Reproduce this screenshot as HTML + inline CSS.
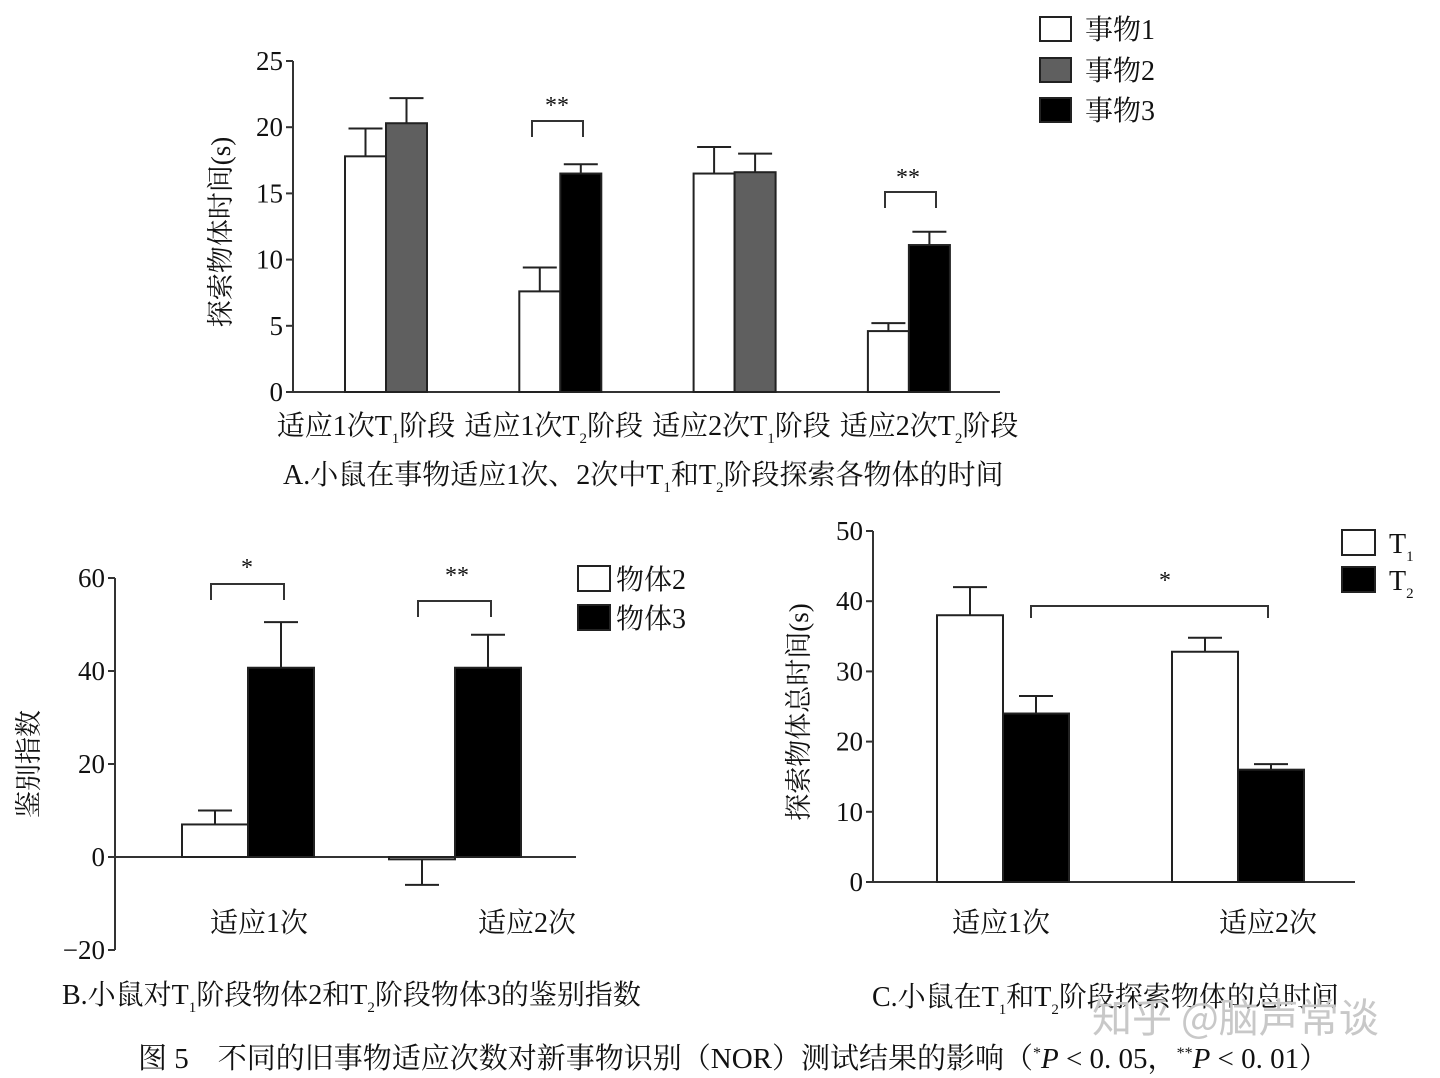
<!DOCTYPE html>
<html><head><meta charset="utf-8">
<style>
html,body{margin:0;padding:0;background:#fff;}
svg{display:block;}
text{font-family:"Liberation Serif","Noto Serif CJK SC","Noto Sans CJK SC",serif;fill:#111;}
</style></head>
<body>
<svg id="fig" width="1440" height="1078" viewBox="0 0 1440 1078" xmlns="http://www.w3.org/2000/svg">
<g id="gA"></g>
<g id="gB"></g>
<g id="gC"></g>
<text x="283" y="484" font-size="28">A.小鼠在事物适应1次、2次中T<tspan font-size="15" dy="8">1</tspan><tspan dy="-8">和T</tspan><tspan font-size="15" dy="8">2</tspan><tspan dy="-8">阶段探索各物体的时间</tspan></text>
<text x="62" y="1004" font-size="28">B.小鼠对T<tspan font-size="15" dy="8">1</tspan><tspan dy="-8">阶段物体2和T</tspan><tspan font-size="15" dy="8">2</tspan><tspan dy="-8">阶段物体3的鉴别指数</tspan></text>
<text x="872" y="1006" font-size="28">C.小鼠在T<tspan font-size="15" dy="8">1</tspan><tspan dy="-8">和T</tspan><tspan font-size="15" dy="8">2</tspan><tspan dy="-8">阶段探索物体的总时间</tspan></text>
<text x="1092" y="1032" font-size="40" style="fill:#c8c8c8;font-family:'Noto Sans CJK SC',sans-serif">知乎 @脑声常谈</text>
<text x="138" y="1068" font-size="29">图 5　不同的旧事物适应次数对新事物识别（NOR）测试结果的影响（<tspan font-size="16" dy="-10">*</tspan><tspan dy="10" font-style="italic">P</tspan><tspan> &lt; 0. 05，</tspan><tspan font-size="16" dy="-10">**</tspan><tspan dy="10" font-style="italic">P</tspan><tspan> &lt; 0. 01）</tspan></text>
</svg>
<script>
// Chart A data
const aCategories=["适应1次T1阶段","适应1次T2阶段","适应2次T1阶段","适应2次T2阶段"];
const aSeriesLeft=[17.8,7.6,16.5,4.6];
const aSeriesRight=[20.3,16.5,16.6,11.1];
const aErrLeft=[2.1,1.8,2.0,0.6];
const aErrRight=[1.9,0.7,1.4,1.0];
const aRightKind=["gray","black","gray","black"];
const aTicks=[0,5,10,15,20,25];
// Chart B data
const bCategories=["适应1次","适应2次"];
const bSeries2=[7,-0.5];
const bSeries3=[40.7,40.7];
const bErr2=[3,-5.5];
const bErr3=[9.8,7.1];
const bTicks=[-20,0,20,40,60];
// Chart C data
const cCategories=["适应1次","适应2次"];
const cT1=[38,32.8];
const cT2=[24,16];
const cErrT1=[4,2];
const cErrT2=[2.5,0.8];
const cTicks=[0,10,20,30,40,50];

const NS="http://www.w3.org/2000/svg";
function mk(parent,tag,attrs){const e=document.createElementNS(NS,tag);for(const k in attrs)e.setAttribute(k,attrs[k]);parent.appendChild(e);return e;}
const colors={white:"#fff",gray:"#5f5f5f",black:"#000"};

function axisY(g,x,yScale,ticks,fmt){
  const ax=mk(g,'line',{x1:x,x2:x,y1:yScale(ticks[ticks.length-1]),y2:yScale(ticks[0]),stroke:'#333','stroke-width':2});
  
  ticks.forEach(t=>{
    const tl=mk(g,'line',{x1:x-7,x2:x,y1:yScale(t),y2:yScale(t),stroke:'#333','stroke-width':2});
    
    const tx=mk(g,'text',{x:x-10,y:yScale(t)+9,'font-size':27,'text-anchor':'end'});
    tx.textContent=fmt(t);
    
  });
}
function bar(g,x,w,yScale,v,err,fill,name){
  const y0=yScale(0),y1=yScale(v);
  const ex=x+w/2, ey=yScale(v+err);
  const el=mk(g,'line',{x1:ex,x2:ex,y1:y1,y2:ey,stroke:'#222','stroke-width':2});
  
  const ec=mk(g,'line',{x1:ex-17,x2:ex+17,y1:ey,y2:ey,stroke:'#222','stroke-width':2});
  
  const r=mk(g,'rect',{x:x,y:Math.min(y0,y1),width:w,height:Math.max(1.5,Math.abs(y1-y0)),fill:fill,stroke:'#222','stroke-width':2});
  
}
function bracket(g,x1,x2,y,drop,label,lx,ly){
  const p=mk(g,'path',{d:`M${x1},${y+drop}V${y}H${x2}V${y+drop}`,fill:'none',stroke:'#333','stroke-width':2});
  
  const t=mk(g,'text',{x:lx,y:ly,'font-size':24,'text-anchor':'middle'});t.textContent=label;
  
}
function legend(g,x,ys,fills,labels,w,h,fs,gap){
  ys.forEach((y,i)=>{
    const r=mk(g,'rect',{x:x,y:y,width:w,height:h,fill:fills[i],stroke:'#222','stroke-width':2});
    
    const t=mk(g,'text',{x:x+w+gap,y:y+h-2,'font-size':fs});
    if(Array.isArray(labels[i])){t.textContent=labels[i][0];const s=mk(t,'tspan',{'font-size':15,dy:8});s.textContent=labels[i][1];}
    else t.textContent=labels[i];
    
  });
}

// ---- Chart A
(function(){
  const g=document.getElementById('gA');
  const yS=v=>392-v*(331/25);
  axisY(g,293,yS,aTicks,t=>String(t));
  const xa=mk(g,'line',{x1:293,x2:1000,y1:392,y2:392,stroke:'#333','stroke-width':2});
  
  const bw=41, start=345, step=174.3;
  aCategories.forEach((c,i)=>{
    const x=start+i*step;
    bar(g,x,bw,yS,aSeriesLeft[i],aErrLeft[i],colors.white,'bar-object1');
    bar(g,x+bw,bw,yS,aSeriesRight[i],aErrRight[i],colors[aRightKind[i]],aRightKind[i]==='gray'?'bar-object2':'bar-object3');
    const t=mk(g,'text',{x:366+i*187.7,y:435,'font-size':28,'text-anchor':'middle'});
    
    t.textContent=c.slice(0,5);
    const s=mk(t,'tspan',{'font-size':15,dy:8});s.textContent=c[5];
    const s2=mk(t,'tspan',{dy:-8});s2.textContent=c.slice(6);
  });
  bracket(g,532,583,121,16,'**',557,113);
  bracket(g,885,936,192,16,'**',908,185);
  const yt=mk(g,'text',{transform:'translate(230,232) rotate(-90)','font-size':27,'text-anchor':'middle'});
  yt.textContent='探索物体时间(s)';
  legend(g,1040,[17,58,98],[colors.white,colors.gray,colors.black],['事物1','事物2','事物3'],31,24,28,14);
})();

// ---- Chart B
(function(){
  const g=document.getElementById('gB');
  const yS=v=>857-v*(279/60);
  axisY(g,115,yS,bTicks,t=>t<0?'−'+(-t):String(t));
  const xa=mk(g,'line',{x1:115,x2:576,y1:857,y2:857,stroke:'#333','stroke-width':2});
  
  const bw=66, start=182, step=207;
  const labOff=[11,72];
  bCategories.forEach((c,i)=>{
    const x=start+i*step;
    bar(g,x,bw,yS,bSeries2[i],bErr2[i],colors.white,'bar-object2');
    bar(g,x+bw,bw,yS,bSeries3[i],bErr3[i],colors.black,'bar-object3');
    const t=mk(g,'text',{x:x+bw+labOff[i],y:932,'font-size':28,'text-anchor':'middle'});
    t.textContent=c;
  });
  bracket(g,211,284,584,16,'*',247,575);
  bracket(g,418,491,601,16,'**',457,583);
  const yt=mk(g,'text',{transform:'translate(38,764) rotate(-90)','font-size':27,'text-anchor':'middle'});
  yt.textContent='鉴别指数';
  legend(g,578,[566,605],[colors.white,colors.black],['物体2','物体3'],32,25,28,6);
})();

// ---- Chart C
(function(){
  const g=document.getElementById('gC');
  const yS=v=>882-v*(351/50);
  axisY(g,873,yS,cTicks,t=>String(t));
  const xa=mk(g,'line',{x1:873,x2:1355,y1:882,y2:882,stroke:'#333','stroke-width':2});
  
  const bw=66, start=937, step=235;
  const labOff=[-2,30];
  cCategories.forEach((c,i)=>{
    const x=start+i*step;
    bar(g,x,bw,yS,cT1[i],cErrT1[i],colors.white,'bar-t1');
    bar(g,x+bw,bw,yS,cT2[i],cErrT2[i],colors.black,'bar-t2');
    const t=mk(g,'text',{x:x+bw+labOff[i],y:932,'font-size':28,'text-anchor':'middle'});
    t.textContent=c;
  });
  bracket(g,1031,1268,606,12,'*',1165,588);
  const yt=mk(g,'text',{transform:'translate(808,712) rotate(-90)','font-size':27,'text-anchor':'middle'});
  yt.textContent='探索物体总时间(s)';
  legend(g,1342,[530,567],[colors.white,colors.black],[['T','1'],['T','2']],33,25,28,14);
})();
</script>
</body></html>
